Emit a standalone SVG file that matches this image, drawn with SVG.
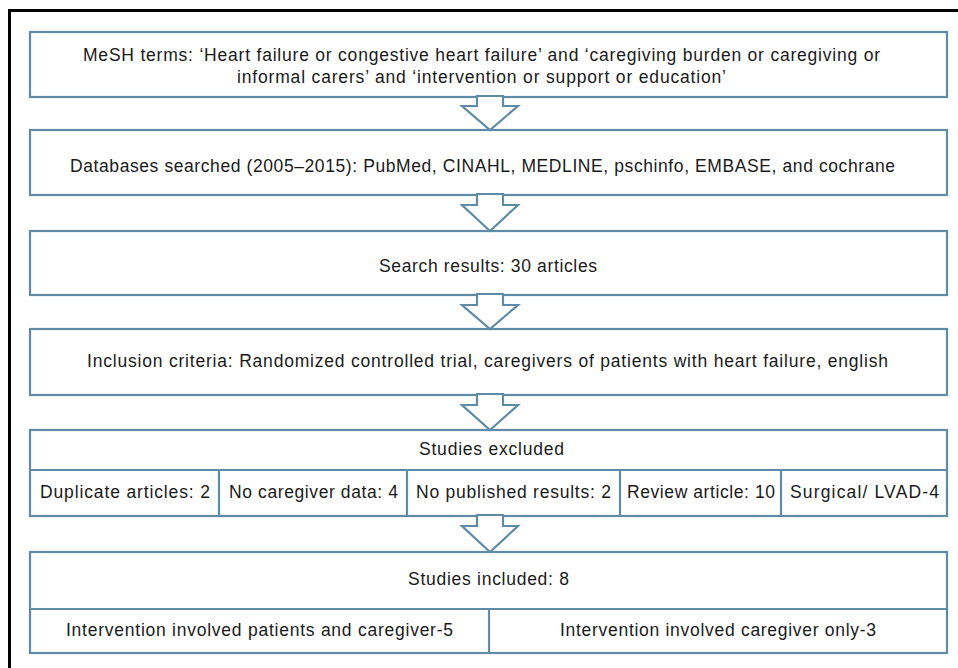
<svg xmlns="http://www.w3.org/2000/svg" width="958" height="668" viewBox="0 0 958 668">
<style>
.box{fill:#fff;stroke:#5f8ba7;stroke-width:2.2}
.ln{fill:none;stroke:#5f8ba7;stroke-width:2.2}
.arr{fill:#fff;stroke:#5f8ba7;stroke-width:2.2;stroke-linejoin:miter}
text{font-family:"Liberation Sans",Arial,sans-serif;font-size:17.5px;fill:#1a1a1a}
</style>
<rect x="0" y="0" width="958" height="668" fill="#fff"/>
<rect x="9.5" y="10.5" width="970" height="680" fill="none" stroke="#000" stroke-width="3"/>
<g id="n1"><rect class="box" x="30" y="32" width="917" height="65"/>
<text x="83" y="61" textLength="797" lengthAdjust="spacing">MeSH terms: ‘Heart failure or congestive heart failure’ and ‘caregiving burden or caregiving or</text>
<text x="237" y="83" textLength="489" lengthAdjust="spacing">informal carers’ and ‘intervention or support or education’</text></g>
<g id="n2"><rect class="box" x="30" y="130" width="917" height="65"/>
<text x="70" y="171.5" textLength="825" lengthAdjust="spacing">Databases searched (2005–2015): PubMed, CINAHL, MEDLINE, pschinfo, EMBASE, and cochrane</text></g>
<g id="n3"><rect class="box" x="30" y="231" width="917" height="64"/>
<text x="379" y="272" textLength="218" lengthAdjust="spacing">Search results: 30 articles</text></g>
<g id="n4"><rect class="box" x="30" y="329" width="917" height="66"/>
<text x="87" y="367" textLength="801" lengthAdjust="spacing">Inclusion criteria: Randomized controlled trial, caregivers of patients with heart failure, english</text></g>
<g id="n5"><rect class="box" x="30" y="430" width="917" height="86"/>
<line class="ln" x1="30" y1="470" x2="947" y2="470"/>
<line class="ln" x1="219" y1="470" x2="219" y2="516"/>
<line class="ln" x1="407" y1="470" x2="407" y2="516"/>
<line class="ln" x1="620" y1="470" x2="620" y2="516"/>
<line class="ln" x1="781" y1="470" x2="781" y2="516"/>
<text x="419" y="455" textLength="145" lengthAdjust="spacing">Studies excluded</text>
<text x="40" y="498" textLength="170" lengthAdjust="spacing">Duplicate articles: 2</text>
<text x="229" y="498" textLength="169" lengthAdjust="spacing">No caregiver data: 4</text>
<text x="416" y="498" textLength="195" lengthAdjust="spacing">No published results: 2</text>
<text x="627" y="498" textLength="148" lengthAdjust="spacing">Review article: 10</text>
<text x="790" y="498" textLength="149" lengthAdjust="spacing">Surgical/ LVAD-4</text></g>
<g id="n6"><rect class="box" x="30" y="552" width="917" height="101"/>
<line class="ln" x1="30" y1="609" x2="947" y2="609"/>
<line class="ln" x1="489" y1="609" x2="489" y2="653"/>
<text x="408" y="585" textLength="161" lengthAdjust="spacing">Studies included: 8</text>
<text x="66" y="636" textLength="387" lengthAdjust="spacing">Intervention involved patients and caregiver-5</text>
<text x="560" y="636" textLength="316" lengthAdjust="spacing">Intervention involved caregiver only-3</text></g>
<g id="connectors">
<polygon class="arr" points="477,96 503,96 503,106 518,106 490,130 462,106 477,106"/>
<polygon class="arr" points="477,194 503,194 503,205 518,205 490,231 462,205 477,205"/>
<polygon class="arr" points="477,294 503,294 503,305 518,305 490,329 462,305 477,305"/>
<polygon class="arr" points="477,394 503,394 503,405 518,405 490,430 462,405 477,405"/>
<polygon class="arr" points="477,515 503,515 503,526 518,526 490,552 462,526 477,526"/>
</g>
</svg>
